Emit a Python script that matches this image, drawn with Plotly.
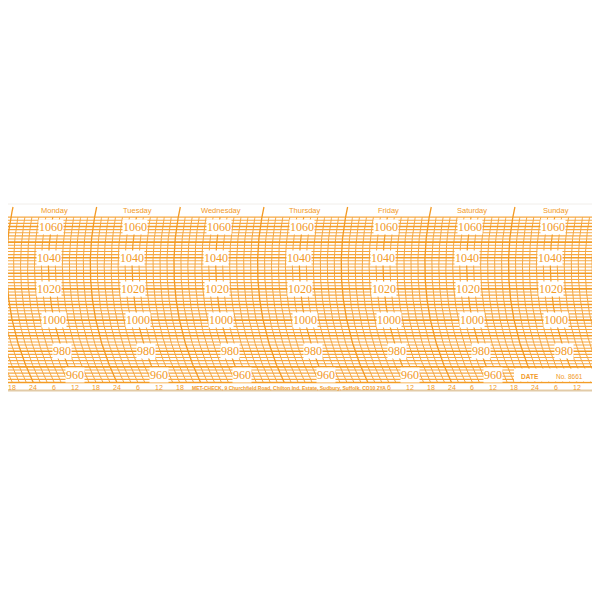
import numpy as np
import plotly.graph_objects as go

# ---- chart content -------------------------------------------------------
days = ["Monday", "Tuesday", "Wednesday", "Thursday", "Friday", "Saturday", "Sunday"]
pressure_labels = [1060, 1040, 1020, 1000, 980, 960]          # hPa, printed labels
pressure_min, pressure_max, pressure_step = 960, 1066, 2       # grid lines (hPa)
hours_per_day = 24
hour_step = 2                                                 # vertical arc spacing (h)
hour_tick_labels = ["18", "24", "6", "12", "18", "24", "6", "12",
                    "18", "24", "6", "12", "18", "24", "6", "12",
                    "18", "24", "6", "12", "18", "24", "6", "12",
                    "18", "24", "6", "12"]
hour_tick_first = -6                                          # hour of first tick
hidden_ticks = range(9, 18)                                   # covered by imprint
imprint = "MET-CHECK, 9 Churchfield Road, Chilton Ind. Estate, Sudbury, Suffolk. CO10 2YA"
date_text = "DATE"
number_text = "No. 8661"

# ---- geometry / style ----------------------------------------------------
W = H = 600
PAGE_OFF = 8                 # default body margin of the html page
PX_PER_HOUR = 83.65 / 24
PX_PER_HPA = 1.56
X_ORIGIN_PX = 6.6 - PAGE_OFF  # pixel of Monday 00h arc (at arc centre height)
Y_REF_P, Y_REF_PX = 1060, 226.5 - PAGE_OFF
ARC_R = 270.0                # pen-arm radius in px
ARC_CENTER_P = 1035.0

THIN = "#F6A843"
BOLD = "#F39C26"
DAY = "#F39A24"
TEXT = "#F29A28"


def px_to_h(px):
    return (px - PAGE_OFF - X_ORIGIN_PX) / PX_PER_HOUR


def py_to_p(py):
    return Y_REF_P - (py - PAGE_OFF - Y_REF_PX) / PX_PER_HPA


def arc_offset(p):
    dy = (np.asarray(p, dtype=float) - ARC_CENTER_P) * PX_PER_HPA
    return (ARC_R - np.sqrt(ARC_R ** 2 - dy ** 2)) / PX_PER_HOUR


x_range = [-X_ORIGIN_PX / PX_PER_HOUR, (W - X_ORIGIN_PX) / PX_PER_HOUR]
y_range = [Y_REF_P - (H - Y_REF_PX) / PX_PER_HPA, Y_REF_P + Y_REF_PX / PX_PER_HPA]
XMIN = px_to_h(7)
XMAX = px_to_h(594)


def arc_xy(h, p_lo, p_hi):
    p = np.linspace(p_lo, p_hi, int((p_hi - p_lo) * 4) + 1)
    x = h + arc_offset(p)
    x = np.where((x >= XMIN) & (x <= XMAX), x, np.nan)
    return list(x) + [None], list(p) + [None]


fig = go.Figure()

# horizontal pressure lines
hx_thin, hy_thin, hx_bold, hy_bold = [], [], [], []
for p in range(pressure_min, pressure_max + 1, pressure_step):
    if p % 10 == 0:
        hx_bold += [XMIN, XMAX, None]; hy_bold += [p, p, None]
    else:
        hx_thin += [XMIN, XMAX, None]; hy_thin += [p, p, None]

# time arcs
ax_thin, ay_thin, ax_noon, ay_noon, ax_day, ay_day = [], [], [], [], [], []
n_days = len(days)
top_day_p = py_to_p(207)
for h in np.arange(-12, n_days * hours_per_day + 4, hour_step):
    if h % hours_per_day == 0:
        xs, ys = arc_xy(h, pressure_min, top_day_p)
        ax_day += xs; ay_day += ys
    elif h % 12 == 0:
        xs, ys = arc_xy(h, pressure_min, pressure_max)
        ax_noon += xs; ay_noon += ys
    else:
        xs, ys = arc_xy(h, pressure_min, pressure_max)
        ax_thin += xs; ay_thin += ys

for xs, ys, col, w in [(hx_thin, hy_thin, THIN, 1.1), (ax_thin, ay_thin, THIN, 1.0),
                       (ax_noon, ay_noon, BOLD, 1.2), (hx_bold, hy_bold, BOLD, 1.6),
                       (ax_day, ay_day, DAY, 1.3)]:
    fig.add_trace(go.Scatter(x=xs, y=ys, mode="lines", hoverinfo="skip",
                             line=dict(color=col, width=w), showlegend=False))

annotations = []
# day names
day_p = py_to_p(210.5)
for d, name in enumerate(days):
    annotations.append(dict(x=12 + d * hours_per_day + float(arc_offset(day_p)), y=day_p,
                            text=name, showarrow=False,
                            font=dict(family="Liberation Sans", size=7.5, color=TEXT)))
# pressure labels on each day's noon arc
for d in range(n_days):
    for p in pressure_labels:
        if d == n_days - 1 and p == pressure_min:
            continue
        annotations.append(dict(x=12 + d * hours_per_day + float(arc_offset(p)), y=p,
                                yshift=7.5 if p == pressure_min else 0,
                                text=str(p), showarrow=False, bgcolor="white",
                                borderpad=0,
                                font=dict(family="Liberation Serif", size=12, color=TEXT)))
# bottom hour ticks
bottom_off = float(arc_offset(pressure_min))
tick_p = py_to_p(387.5)
for k, lab in enumerate(hour_tick_labels):
    if k in hidden_ticks:
        continue
    annotations.append(dict(x=hour_tick_first + 6 * k + bottom_off, y=tick_p, text=lab,
                            showarrow=False,
                            font=dict(family="Liberation Sans", size=7, color=TEXT)))
annotations.append(dict(x=px_to_h(288.5), y=tick_p, text=imprint, showarrow=False,
                        font=dict(family="Liberation Sans", size=5, color=TEXT, weight="bold")))
annotations.append(dict(x=px_to_h(519), y=py_to_p(376), text=date_text,
                        xanchor="left", showarrow=False,
                        font=dict(family="Liberation Sans", size=6.5, color=TEXT, weight="bold")))
annotations.append(dict(x=px_to_h(585), y=py_to_p(376), text=number_text,
                        xanchor="right", showarrow=False,
                        font=dict(family="Liberation Sans", size=6.5, color=TEXT)))

shapes = [
    dict(type="rect", xref="x", yref="y", x0=px_to_h(514), x1=XMAX,
         y0=960.6, y1=py_to_p(368.5), fillcolor="white", line=dict(width=0), layer="above"),
    dict(type="line", xref="paper", yref="y", x0=0, x1=1, y0=py_to_p(390.5), y1=py_to_p(390.5),
         line=dict(color="#E2CBA8", width=2)),
    dict(type="line", xref="paper", yref="y", x0=0, x1=1, y0=py_to_p(204), y1=py_to_p(204),
         line=dict(color="#F1EEEA", width=1)),
]

fig.update_layout(
    width=W, height=H, margin=dict(l=0, r=0, t=0, b=0),
    paper_bgcolor="white", plot_bgcolor="white",
    xaxis=dict(range=x_range, visible=False, fixedrange=True),
    yaxis=dict(range=y_range, visible=False, fixedrange=True),
    annotations=annotations, shapes=shapes, showlegend=False,
)
fig.write_html("out.html")
